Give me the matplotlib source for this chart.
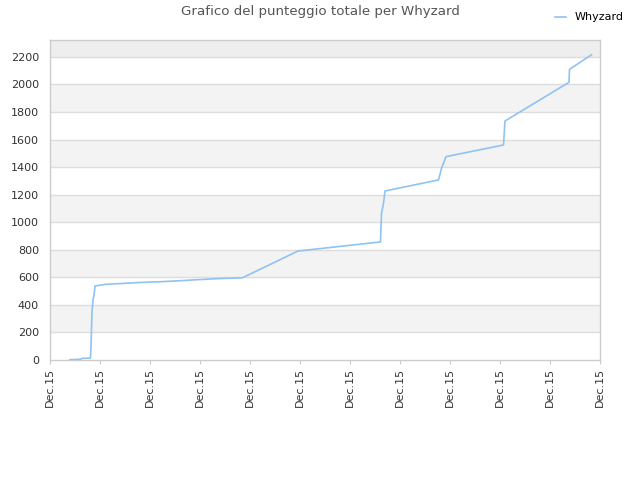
import matplotlib
matplotlib.use("Agg")
import matplotlib.pyplot as plt

x_vals = [0.4, 0.62, 0.64, 0.81, 0.82, 0.84, 0.86, 0.88, 0.9, 1.1, 1.47, 1.82, 2.2, 2.57, 2.95,
          3.31, 3.85, 4.96, 6.61, 6.63, 6.67, 6.7, 7.77, 7.83, 7.92, 9.07, 9.1, 10.38, 10.39, 10.83]
y_vals = [2, 6, 12, 14, 100, 350, 435, 470, 537, 549, 556, 563, 568, 575, 583,
          590, 597, 791, 857, 1065, 1137, 1227, 1307, 1391, 1476, 1561, 1735, 2016, 2110, 2216]
x_labels = ["Dec.15"] * 12
y_ticks = list(range(0, 2201, 200))
series_name = "Whyzard"
title = "Grafico del punteggio totale per Whyzard"

fig = plt.figure(figsize=(6.4, 4.8), dpi=100)
ax = fig.add_axes([50/640, 120/480, 550/640, 320/480])
ymax = 2323
ax.set_xlim(0, 11)
ax.set_ylim(0, ymax)

# alternating bands
for i, lo in enumerate(y_ticks):
    hi = lo + 200
    if lo == 2200:
        ax.axhspan(lo, ymax, color="#eeeeee", zorder=0, lw=0)
    elif i % 2 == 1:
        ax.axhspan(lo, hi, color="#f3f3f3", zorder=0, lw=0)
for t in y_ticks[1:]:
    ax.axhline(t, color="#dddddd", lw=1, zorder=1)

ax.plot(x_vals, y_vals, color="#90c2f2", lw=1.2, zorder=3, label=series_name)

ax.set_xticks(range(12))
ax.set_xticklabels(x_labels, rotation=90, fontsize=8, color="#333333")
ax.set_yticks(y_ticks)
ax.set_yticklabels([str(t) for t in y_ticks], fontsize=8, color="#333333")
ax.tick_params(axis="y", length=0, pad=8)
ax.tick_params(axis="x", length=3, color="#cccccc", pad=3)
for s in ax.spines.values():
    s.set_color("#cccccc")
    s.set_linewidth(1)

fig.text(0.5, 1 - 12/480, title, ha="center", va="center", fontsize=9.6, color="#555555")
fig.legend(loc="upper right", bbox_to_anchor=(0.99, 0.995), frameon=False, fontsize=8,
           handlelength=1.0, handletextpad=0.8)

fig.savefig("out.png", dpi=100)
